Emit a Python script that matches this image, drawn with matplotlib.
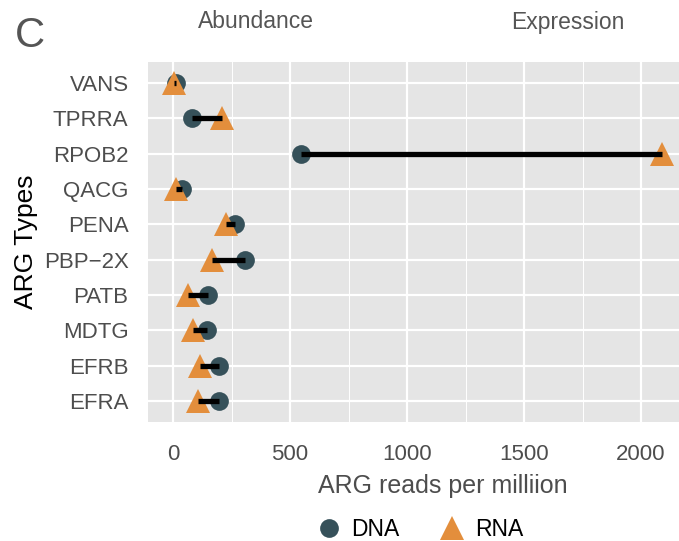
import numpy as np
import matplotlib.pyplot as plt
from matplotlib.lines import Line2D

plt.rcParams['font.family'] = ['Liberation Sans', 'DejaVu Sans']

# ARG types, bottom to top as drawn
arg_types = ['EFRA', 'EFRB', 'MDTG', 'PATB', 'PBP\u22122X', 'PENA', 'QACG', 'RPOB2', 'TPRRA', 'VANS']
dna_rpm = [197, 195, 144, 151, 308, 265, 37, 546, 80, 14]
rna_rpm = [108, 115, 87, 63, 168, 225, 12, 2088, 210, 4]

dna_color = '#36515A'
rna_color = '#E38E3C'
text_gray = '#4D4D4D'

fig = plt.figure(figsize=(6.79, 5.41), dpi=100)
ax = fig.add_axes([148 / 679, 1 - 422 / 541, 531 / 679, 360 / 541])
ax.set_facecolor('#E5E5E5')

ypos = np.arange(1, len(arg_types) + 1)

# points first, segment drawn over them
ax.plot(dna_rpm, ypos, 'o', color=dna_color, markersize=13.5, markeredgewidth=0, zorder=3)
ax.plot(rna_rpm, ypos, '^', color=rna_color, markersize=17, markeredgewidth=0, zorder=3)
for y, d, r in zip(ypos, dna_rpm, rna_rpm):
    ax.plot([d, r], [y, y], color='black', linewidth=3.8, solid_capstyle='butt', zorder=4)

ax.set_xlim(-107, 2162)
ax.set_ylim(0.4, 10.6)
ax.set_xticks([0, 500, 1000, 1500, 2000])
ax.set_xticks([250, 750, 1250, 1750], minor=True)
ax.set_yticks(ypos)
ax.set_yticklabels(arg_types)

ax.grid(which='major', color='white', linewidth=1.6)
ax.grid(which='minor', axis='x', color='white', linewidth=0.7)
ax.set_axisbelow(True)
for s in ax.spines.values():
    s.set_visible(False)

ax.tick_params(axis='both', which='both', length=0, labelsize=16, labelcolor=text_gray)
ax.tick_params(axis='x', pad=16)
ax.tick_params(axis='y', pad=14)

ax.set_xlabel('ARG reads per milliion', fontsize=18, color=text_gray)
ax.set_ylabel('ARG Types', fontsize=19, color='black')
ax.xaxis.set_label_coords(0.5546, -0.145)
ax.yaxis.set_label_coords(-0.207, 0.5)

# panel headers from the larger figure
fig.text(30 / 679, 1 - 36 / 541, 'C', fontsize=30, color='#555555', ha='center', va='center')
fig.text(256 / 679, 1 - 22 / 541, 'Abundance', fontsize=16.5, color='#555555', ha='center', va='center')
fig.text(568 / 679, 1 - 22 / 541, 'Expression', fontsize=16.5, color='#555555', ha='center', va='center')

handles = [
    Line2D([], [], marker='o', linestyle='', color=dna_color, markersize=13.5, markeredgewidth=0),
    Line2D([], [], marker='^', linestyle='', color=rna_color, markersize=17, markeredgewidth=0),
]
fig.legend(handles, ['DNA', 'RNA'], loc='center', bbox_to_anchor=(419 / 679, 1 - 530 / 541),
           ncol=2, frameon=False, fontsize=16.5, handlelength=1.2, handletextpad=0.4,
           columnspacing=1.67, borderpad=0.1)

fig.savefig('out.png', dpi=100)
